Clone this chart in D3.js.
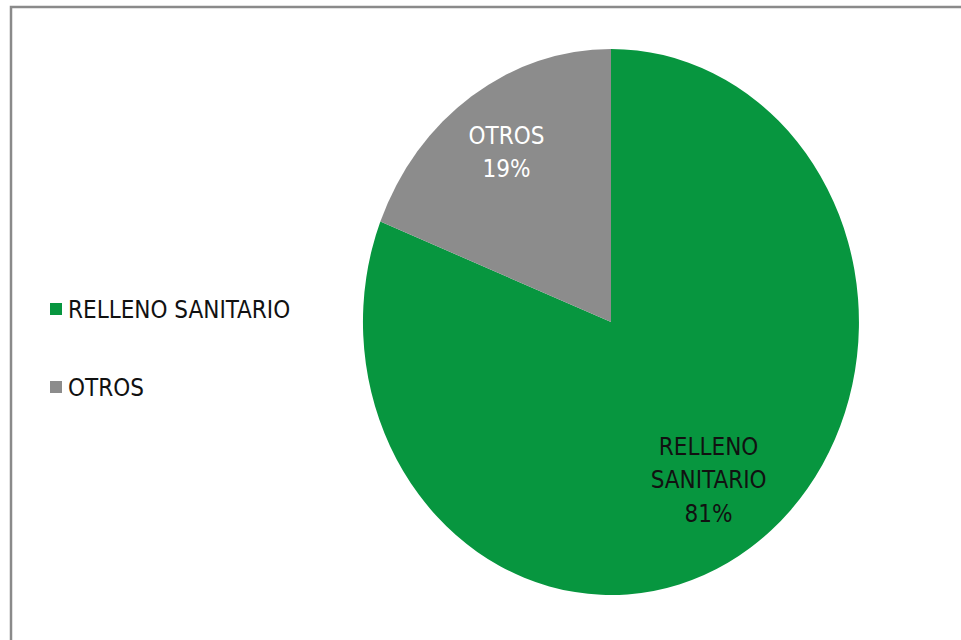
<!DOCTYPE html>
<html>
<head>
<meta charset="utf-8">
<script src="https://cdn.jsdelivr.net/npm/d3@7"></script>
<style>
  html, body { margin: 0; padding: 0; background: #fff; overflow: hidden; }
  svg { display: block; }
  text { font-family: "DejaVu Sans Condensed", "Liberation Sans Narrow", sans-serif; }
</style>
</head>
<body>
<div id="chart"></div>
<script>
const categories = ['RELLENO SANITARIO', 'OTROS'];
const values = [81, 19];
const colors = ['#07963f', '#8c8c8c'];
const labelColors = ['#111', '#fff'];
// label lines as shown inside the slices
const labelLines = [['RELLENO', 'SANITARIO'], ['OTROS']];
const labelRadius = [0.7, 0.75];

const width = 961, height = 640;
const cx = 611, cy = 322, rx = 248, ry = 273;

const svg = d3.select('#chart').append('svg')
  .attr('width', width)
  .attr('height', height);

// chart frame (only left and top edges are visible)
svg.append('rect')
  .attr('x', 11).attr('y', 7)
  .attr('width', width + 20).attr('height', height + 20)
  .attr('fill', '#fff')
  .attr('stroke', '#8a8a8a')
  .attr('stroke-width', 2.5);

const data = categories.map((c, i) => ({ name: c, value: values[i], i }));

const pie = d3.pie().sort(null).value(d => d.value);
const arcs = pie(data);
const arc = d3.arc().innerRadius(0).outerRadius(1);

// unit pie stretched into an ellipse
const g = svg.append('g')
  .attr('transform', `translate(${cx},${cy}) scale(${rx},${ry})`);

g.selectAll('path')
  .data(arcs)
  .join('path')
  .attr('d', arc)
  .attr('fill', d => colors[d.data.i]);

const total = d3.sum(values);
const lineH = 33.5;

svg.append('g').selectAll('text')
  .data(arcs)
  .join('text')
  .attr('text-anchor', 'middle')
  .attr('fill', d => labelColors[d.data.i])
  .style('font-size', '24px')
  .each(function(d) {
    const a = (d.startAngle + d.endAngle) / 2;
    const r = labelRadius[d.data.i];
    const x = cx + Math.sin(a) * r * rx;
    const y = cy - Math.cos(a) * r * ry;
    const lines = labelLines[d.data.i].concat([Math.round(d.data.value / total * 100) + '%']);
    const top = y - (lines.length - 1) * lineH / 2 + 8;
    d3.select(this).selectAll('tspan')
      .data(lines)
      .join('tspan')
      .attr('x', x)
      .attr('y', (l, k) => top + k * lineH)
      .text(l => l);
  });

// legend
const legend = svg.append('g').attr('transform', 'translate(50,0)');
const legendY = d3.scalePoint().domain(categories).range([309, 387]);

legend.selectAll('rect')
  .data(categories)
  .join('rect')
  .attr('x', 0)
  .attr('y', d => legendY(d) - 6)
  .attr('width', 12).attr('height', 12)
  .attr('fill', (d, i) => colors[i]);

legend.selectAll('text')
  .data(categories)
  .join('text')
  .attr('x', 18)
  .attr('y', d => legendY(d) + 9)
  .attr('fill', '#111')
  .style('font-size', '24px')
  .text(d => d);
</script>
</body>
</html>
